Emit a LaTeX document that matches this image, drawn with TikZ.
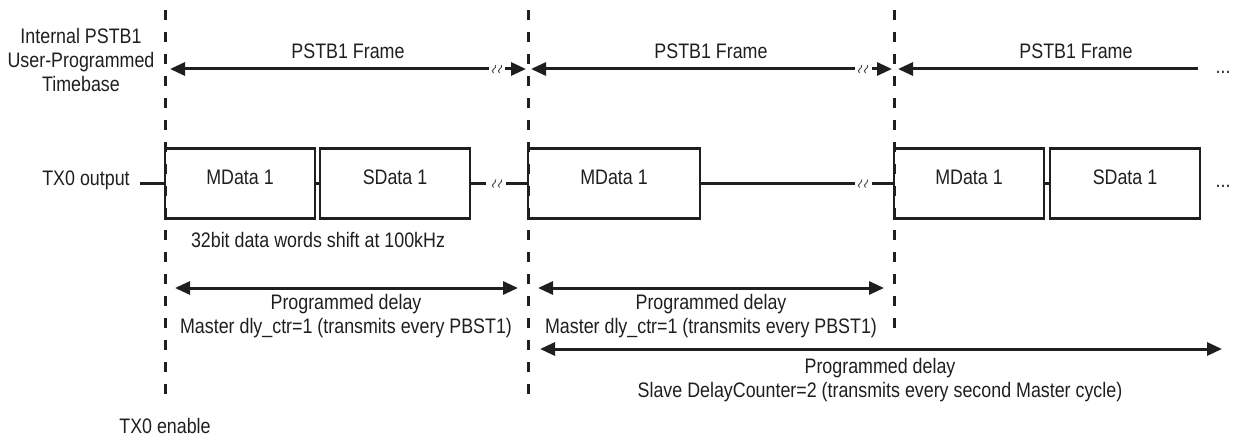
\documentclass[tikz,border=0pt]{standalone}
\usepackage{fontspec}
\setmainfont{Liberation Sans}[FakeStretch=0.85]
\usetikzlibrary{arrows.meta}
\definecolor{ink}{gray}{0.12}
\tikzset{
  lbl/.style={font=\fontsize{21}{24}\selectfont, inner sep=0pt, align=center, text=ink},
  dline/.style={draw=ink, line width=3pt, dash pattern=on 10pt off 12pt},
  arr/.style={draw=ink, line width=3pt, -{Triangle[length=15pt,width=13pt]}},
  darr/.style={draw=ink, line width=3pt, {Triangle[length=15pt,width=13pt]}-{Triangle[length=15pt,width=13pt]}},
  databox/.style={draw=ink, line width=2.5pt, minimum height=70pt, inner sep=0pt,
    font=\fontsize{21}{24}\selectfont, text=ink, text height=15pt, text depth=12pt},
  wire/.style={draw=ink, line width=2.5pt},
  brkmark/.pic={
    \draw[black!70, line width=1pt] (-3.5,4) .. controls (-7.5,0.5) and (0.5,-0.5) .. (-1.5,-4);
    \draw[black!70, line width=1pt] (2.5,4) .. controls (-1.5,0.5) and (6.5,-0.5) .. (4.5,-4);
  }
}
\begin{document}
\begin{tikzpicture}[x=1pt,y=-1pt]
\useasboundingbox (0,0) rectangle (1233,438);

% dashed time markers
\coordinate (d1t) at (165,10);  \coordinate (d1b) at (165,400);
\coordinate (d2t) at (528,10);  \coordinate (d2b) at (528,400);
\coordinate (d3t) at (894,10);  \coordinate (d3b) at (894,338);
\draw[dline] (d1t) -- (d1b);
\draw[dline] (d2t) -- (d2b);
\draw[dline] (d3t) -- (d3b);

% left labels
\node[lbl] (tb) at (81,60) {Internal PSTB1\\User-Programmed\\Timebase};
\node[lbl, anchor=base] (txo) at (86,186) {TX0 output};
\node[lbl, anchor=base] (txe) at (165,433) {TX0 enable};

% frame arrows
\node[lbl, anchor=base] (fr1) at (348,59) {PSTB1 Frame};
\node[lbl, anchor=base] (fr2) at (711,59) {PSTB1 Frame};
\node[lbl, anchor=base] (fr3) at (1076,59) {PSTB1 Frame};

\coordinate (f1a) at (170,69); \coordinate (f1l) at (489,69);
\coordinate (f1r) at (505,69); \coordinate (f1b) at (526,69);
\coordinate (f1k) at (497,69);
\draw[arr] (f1l) -- (f1a);
\draw[arr] (f1r) -- (f1b);
\pic at (f1k) {brkmark};

\coordinate (f2a) at (531,69); \coordinate (f2l) at (855,69);
\coordinate (f2r) at (872,69); \coordinate (f2b) at (892,69);
\coordinate (f2k) at (863,69);
\draw[arr] (f2l) -- (f2a);
\draw[arr] (f2r) -- (f2b);
\pic at (f2k) {brkmark};

\coordinate (f3a) at (898,69); \coordinate (f3l) at (1198,69);
\draw[arr] (f3l) -- (f3a);
\node[lbl, anchor=base] (dots1) at (1223,74) {...};

% data row
\node[databox, minimum width=150pt] (m1) at (240,183.5) {MData 1};
\node[databox, minimum width=150pt] (s1) at (395,183.5) {SData 1};
\node[databox, minimum width=172pt] (m2) at (614,183.5) {MData 1};
\node[databox, minimum width=150pt] (m3) at (969,183.5) {MData 1};
\node[databox, minimum width=150pt] (s3) at (1125,183.5) {SData 1};
\node[lbl, anchor=base] (dots2) at (1223,188) {...};

\coordinate (w0) at (140,183.5);
\coordinate (k1) at (497,183.5);
\coordinate (k2) at (863,183.5);
\draw[wire] (w0) -- (m1.west);
\draw[wire] (m1.east) -- (s1.west);
\draw[wire] (s1.east) -- ([xshift=-11pt]k1);
\draw[wire] ([xshift=9pt]k1) -- (m2.west);
\pic at (k1) {brkmark};
\draw[wire] (m2.east) -- ([xshift=-8pt]k2);
\draw[wire] ([xshift=9pt]k2) -- (m3.west);
\pic at (k2) {brkmark};
\draw[wire] (m3.east) -- (s3.west);

\node[lbl] (note) at (318,240) {32bit data words shift at 100kHz};

% delay arrows
\coordinate (p1a) at (175,288); \coordinate (p1b) at (518,288);
\draw[darr] (p1a) -- (p1b);
\node[lbl] (pd1) at (346,316) {Programmed delay\\Master dly\_ctr=1 (transmits every PBST1)};

\coordinate (p2a) at (538,288); \coordinate (p2b) at (884,288);
\draw[darr] (p2a) -- (p2b);
\node[lbl] (pd2) at (711,316) {Programmed delay\\Master dly\_ctr=1 (transmits every PBST1)};

\coordinate (p3a) at (540,349); \coordinate (p3b) at (1222,349);
\draw[darr] (p3a) -- (p3b);
\node[lbl] (pd3) at (880,380) {Programmed delay\\Slave DelayCounter=2 (transmits every second Master cycle)};
\end{tikzpicture}
\end{document}
